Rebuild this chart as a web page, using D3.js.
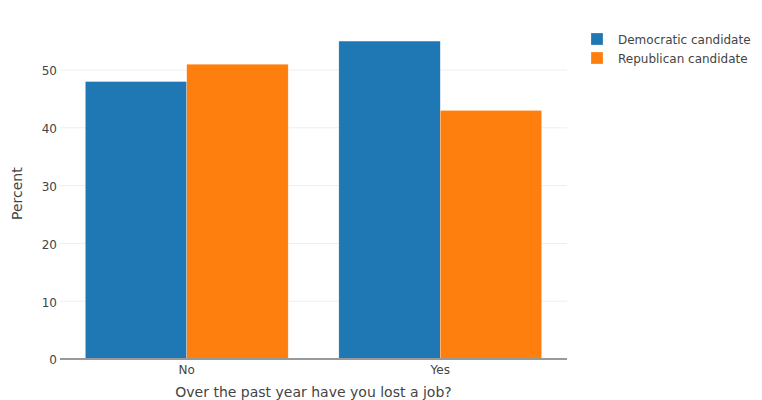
<!DOCTYPE html>
<html><head><meta charset="utf-8">
<script src="https://cdn.jsdelivr.net/npm/d3@7"></script>
<style>body{margin:0;background:#fff}svg{font-family:"DejaVu Sans",verdana,arial,sans-serif}</style>
</head><body><svg id="c" width="762" height="400"></svg>
<script>
const categories = ["No", "Yes"];
const seriesNames = ["Democratic candidate", "Republican candidate"];
const demValues = [48, 55];
const repValues = [51, 43];
const yTicks = [0, 10, 20, 30, 40, 50];
const colors = ["#1f77b4", "#ff7f0e"];
const FONT = "'DejaVu Sans',verdana,arial,sans-serif";

const svg = d3.select("#c");
const L = 60, R = 567, T = 24.4, B = 359;
const x = d3.scaleBand().domain(categories).range([L, R]).paddingInner(0.2).paddingOuter(0.1);
const xs = d3.scaleBand().domain([0, 1]).range([0, x.bandwidth()]);
const y = d3.scaleLinear().domain([0, 57.89]).range([B, T]);

// grid
svg.append("g").selectAll("line").data(yTicks.filter(d => d > 0)).join("line")
  .attr("x1", L).attr("x2", R).attr("y1", d => y(d)).attr("y2", d => y(d))
  .attr("stroke", "#eee").attr("stroke-width", 1);

// y axis labels
const ya = svg.append("g").attr("transform", `translate(${L},1)`)
  .call(d3.axisLeft(y).tickValues(yTicks).tickSize(0).tickPadding(3).tickFormat(d3.format("d")));
ya.select(".domain").remove();
ya.selectAll("text").attr("font-size", 12).attr("fill", "#444").attr("font-family", FONT);

// bars
const data = [demValues, repValues];
data.forEach((vals, si) => {
  svg.append("g").selectAll("rect").data(categories).join("rect")
    .attr("x", (c) => x(c) + xs(si))
    .attr("width", xs.bandwidth())
    .attr("y", (c, i) => y(vals[i]))
    .attr("height", (c, i) => B - y(vals[i]))
    .attr("fill", colors[si])
    .attr("stroke", "#fff").attr("stroke-width", 0.5).attr("stroke-opacity", 0.5);
});

// zero line
svg.append("line").attr("x1", L).attr("x2", R).attr("y1", B).attr("y2", B)
  .attr("stroke", "#999").attr("stroke-width", 2);

// x axis
const xa = svg.append("g").attr("transform", `translate(0,${B})`)
  .call(d3.axisBottom(x).tickSize(0).tickPadding(6));
xa.select(".domain").remove();
xa.selectAll("text").attr("font-size", 12).attr("fill", "#444").attr("font-family", FONT);

// axis titles
svg.append("text").attr("x", (L + R) / 2).attr("y", 397).attr("text-anchor", "middle")
  .attr("font-size", 14).attr("fill", "#444").text("Over the past year have you lost a job?");
svg.append("text").attr("transform", `translate(22,${(T + B) / 2 + 2}) rotate(-90)`)
  .attr("text-anchor", "middle").attr("font-size", 14).attr("fill", "#444").text("Percent");

// legend
const lg = svg.append("g").selectAll("g").data(seriesNames).join("g")
  .attr("transform", (d, i) => `translate(591,${33 + i * 19})`);
lg.append("rect").attr("width", 12).attr("height", 12).attr("fill", (d, i) => colors[i])
  .attr("stroke", "#fff").attr("stroke-width", 0.5).attr("stroke-opacity", 0.5);
lg.append("text").attr("x", 27).attr("y", 11).attr("font-size", 12).attr("fill", "#444").text(d => d);
</script></body></html>
